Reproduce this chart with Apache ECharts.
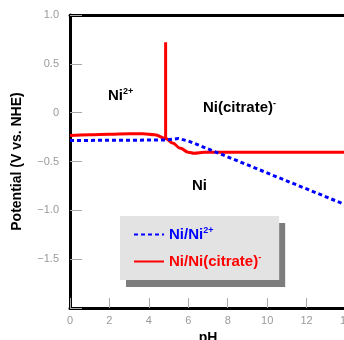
<!DOCTYPE html>
<html>
<head>
<meta charset="utf-8">
<script src="https://cdn.jsdelivr.net/npm/echarts@6/dist/echarts.min.js"></script>
<style>
html,body{margin:0;padding:0;background:#fff;}
#c{width:344px;height:340px;}
</style>
</head>
<body>
<div id="c"></div>
<script>
// ---- data ----
var pHCitrate = [0, 1, 2, 3, 3.7, 4.3, 4.85, 5.2, 5.6, 6.0, 6.3, 6.8, 14];
var ECitrate  = [-0.235, -0.225, -0.22, -0.215, -0.215, -0.225, -0.265, -0.31, -0.365, -0.405, -0.415, -0.405, -0.405];
var pHBoundary = [4.85, 4.85];
var EBoundary  = [-0.27, 0.72];
var pHNi2 = [0, 4.85, 5.5, 6.0, 7.6, 14];
var ENi2  = [-0.285, -0.28, -0.265, -0.29, -0.42, -0.945];
var xTicks = [0, 2, 4, 6, 8, 10, 12, 14];
var yTicks = [-2.0, -1.5, -1.0, -0.5, 0, 0.5, 1.0];
var seriesNames = ['Ni/Ni2+', 'Ni/Ni(citrate)-'];

function pairs(xs, ys){ return xs.map(function(x,i){ return [x, ys[i]]; }); }

var FONT = '"Liberation Sans", Arial, Helvetica, sans-serif';
var chart = echarts.init(document.getElementById('c'), null, {renderer:'canvas'});

function yLabel(v){
  if (Math.abs(v + 2) < 1e-9) return '';
  if (v === 0) return '0';
  var s = Math.abs(v).toFixed(1);
  return (v < 0 ? '\u2212' : '') + s;
}

var option = {
  animation: false,
  backgroundColor: '#ffffff',
  grid: { left: 70, top: 15, width: 276, height: 293, containLabel: false, outerBoundsMode: 'none' },
  xAxis: [{
    type: 'value', min: xTicks[0], max: xTicks[xTicks.length-1], interval: 2,
    position: 'bottom',
    name: 'pH', nameLocation: 'middle', nameGap: 18,
    nameTextStyle: { fontFamily: FONT, fontWeight: 'bold', fontSize: 14, color: '#000' },
    axisLine: { show: true, onZero: false, lineStyle: { color: '#000', width: 3 } },
    axisTick: { show: true, inside: true, length: 10, lineStyle: { color: '#aaa', width: 1 } },
    axisLabel: { show: true, margin: 7, fontFamily: FONT, fontSize: 11, color: '#9a9a9a',
      showMaxLabel: true, showMinLabel: true, hideOverlap: false },
    splitLine: { show: false }
  }, {
    type: 'value', min: xTicks[0], max: xTicks[xTicks.length-1], position: 'top',
    axisLine: { show: true, onZero: false, lineStyle: { color: '#000', width: 3 } },
    axisTick: { show: false }, axisLabel: { show: false }, splitLine: { show: false }
  }],
  yAxis: {
    type: 'value', min: yTicks[0], max: yTicks[yTicks.length-1], interval: 0.5,
    name: 'Potential (V vs. NHE)', nameLocation: 'middle', nameGap: 46,
    nameTextStyle: { fontFamily: FONT, fontWeight: 'bold', fontSize: 14, color: '#000' },
    axisLine: { show: true, onZero: false, lineStyle: { color: '#000', width: 3 } },
    axisTick: { show: true, inside: true, length: 12, lineStyle: { color: '#aaa', width: 1 } },
    axisLabel: { margin: 11, fontFamily: FONT, fontSize: 11, color: '#9a9a9a', formatter: yLabel },
    splitLine: { show: false }
  },
  legend: {
    left: 120, top: 216, orient: 'vertical',
    padding: [10, 18, 11, 13],
    itemWidth: 30, itemHeight: 14, itemGap: 11,
    backgroundColor: '#e3e3e3',
    shadowColor: '#7d7d7d', shadowBlur: 0, shadowOffsetX: 6, shadowOffsetY: 7,
    itemStyle: { color: 'rgba(0,0,0,0)', borderWidth: 0, opacity: 0 },
    data: seriesNames,
    formatter: function(n){
      if (n === seriesNames[0]) return '{b|Ni/Ni}{bs|2+}';
      return '{r|Ni/Ni(citrate)}{rs|-}';
    },
    textStyle: {
      rich: {
        b: { color: '#0000ff', fontFamily: FONT, fontWeight: 'bold', fontSize: 15 },
        bs: { color: '#0000ff', fontFamily: FONT, fontWeight: 'bold', fontSize: 9, padding: [0,0,8,0] },
        r: { color: '#ff0000', fontFamily: FONT, fontWeight: 'bold', fontSize: 15 },
        rs: { color: '#ff0000', fontFamily: FONT, fontWeight: 'bold', fontSize: 9, padding: [0,0,8,0] }
      }
    }
  },
  graphic: [
    { type: 'text', left: 108, top: 87, silent: true,
      style: { text: '{a|Ni}{s|2+}', rich: {
        a: { fontFamily: FONT, fontWeight: 'bold', fontSize: 15, fill: '#000' },
        s: { fontFamily: FONT, fontWeight: 'bold', fontSize: 9, fill: '#000', padding: [0,0,8,0] } } } },
    { type: 'text', left: 203, top: 99, silent: true,
      style: { text: '{a|Ni(citrate)}{s|-}', rich: {
        a: { fontFamily: FONT, fontWeight: 'bold', fontSize: 15, fill: '#000' },
        s: { fontFamily: FONT, fontWeight: 'bold', fontSize: 9, fill: '#000', padding: [0,0,8,0] } } } },
    { type: 'text', left: 192, top: 178, silent: true,
      style: { text: 'Ni', fontFamily: FONT, fontWeight: 'bold', fontSize: 15, fill: '#000' } }
  ],
  series: [
    { name: seriesNames[1], type: 'line', data: pairs(pHCitrate, ECitrate),
      smooth: 0.4, smoothMonotone: 'x', symbol: 'none', z: 3,
      lineStyle: { color: '#ff0000', width: 3 }, itemStyle: { color: '#ff0000' } },
    { name: seriesNames[1], type: 'line', data: pairs(pHBoundary, EBoundary),
      symbol: 'none', z: 3,
      lineStyle: { color: '#ff0000', width: 3 }, itemStyle: { color: '#ff0000' } },
    { name: seriesNames[0], type: 'line', data: pairs(pHNi2, ENi2),
      symbol: 'none', z: 4,
      lineStyle: { color: '#0000ff', width: 3, type: [4, 3] }, itemStyle: { color: '#0000ff' } }
  ]
};
chart.setOption(option);
</script>
</body>
</html>
